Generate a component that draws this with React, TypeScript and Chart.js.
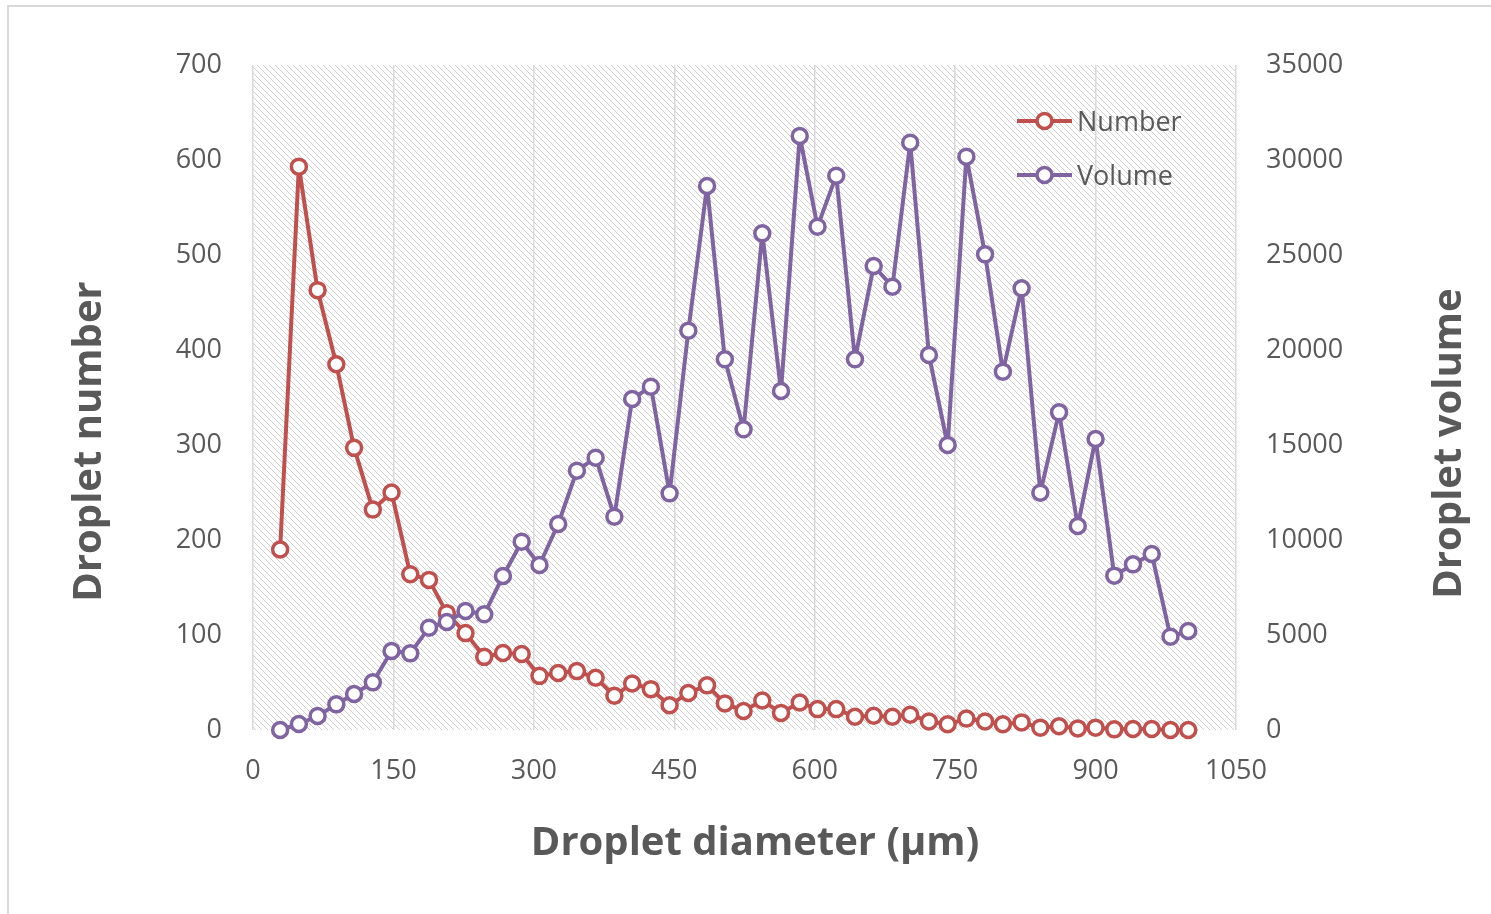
import React, { useEffect, useRef } from "react";
import { Chart, registerables } from "chart.js";

Chart.register(...registerables);

// ---- data ----
const diameters = [29, 49, 69, 89, 108, 128, 148, 168, 188, 207, 227, 247, 267, 287, 306, 326, 346, 366, 386, 405, 425, 445, 465, 485, 504, 524, 544, 564, 584, 603, 623, 643, 663, 683, 702, 722, 742, 762, 782, 801, 821, 841, 861, 881, 900, 920, 940, 960, 980, 999];
const dropletNumber = [190, 593, 463, 385, 297, 232, 250, 164, 158, 123, 102, 77, 81, 80, 57, 60, 62, 55, 36, 49, 43, 26, 39, 47, 28, 20, 31, 18, 29, 22, 22, 14, 15, 14, 16, 9, 6, 12, 9, 6, 8, 2.5, 4, 1.7, 2.5, 0.7, 1, 1, 0, 0];
const dropletVolume = [0, 316, 737, 1350, 1895, 2508, 4158, 4035, 5386, 5684, 6263, 6088, 8105, 9912, 8684, 10842, 13649, 14333, 11228, 17421, 18070, 12456, 21018, 28632, 19509, 15825, 26140, 17842, 31263, 26491, 29175, 19509, 24421, 23333, 30912, 19737, 15000, 30175, 25035, 18860, 23246, 12491, 16719, 10737, 15316, 8123, 8719, 9263, 4912, 5210];
const seriesLabels = ["Number", "Volume"];
const xTitle = "Droplet diameter (µm)";
const yLeftTitle = "Droplet number";
const yRightTitle = "Droplet volume";
const xRange = [0, 1050];
const xStep = 150;
const yLeftRange = [0, 700];
const yLeftStep = 100;
const yRightRange = [0, 35000];
const yRightStep = 5000;

// ---- styles ----
const W = 1491;
const H = 914;
const FONT = '"Open Sans", "Noto Sans", sans-serif';
const TEXT = "#595959";
const RED = "#C0504D";
const PURPLE = "#8064A2";
const GRID = "#d9d9d9";

const plain = (v: any) => String(v);

function makeHatch(ctx: CanvasRenderingContext2D) {
  const c = document.createElement("canvas");
  c.width = 6;
  c.height = 6;
  const g = c.getContext("2d")!;
  g.strokeStyle = "#cfcfcf";
  g.lineWidth = 1;
  g.beginPath();
  g.moveTo(-1, -1);
  g.lineTo(7, 7);
  g.moveTo(-1, 5);
  g.lineTo(1, 7);
  g.moveTo(5, -1);
  g.lineTo(7, 1);
  g.stroke();
  return ctx.createPattern(c, "repeat");
}

const hatchPlugin = {
  id: "hatchBg",
  beforeDraw(chart: any) {
    const { ctx, chartArea } = chart;
    const p = makeHatch(ctx);
    if (!p) return;
    ctx.save();
    ctx.fillStyle = p;
    ctx.fillRect(chartArea.left, chartArea.top, chartArea.right - chartArea.left, chartArea.bottom - chartArea.top);
    ctx.restore();
  },
};

const decorPlugin = {
  id: "decor",
  afterDraw(chart: any) {
    const { ctx, chartArea } = chart;
    ctx.save();
    // legend
    ctx.font = `27px ${FONT}`;
    ctx.textAlign = "left";
    ctx.textBaseline = "middle";
    chart.data.datasets.forEach((ds: any, i: number) => {
      const y = chartArea.top + 56 + i * 54;
      const x1 = chartArea.right - 219;
      const x2 = chartArea.right - 164;
      ctx.strokeStyle = ds.borderColor;
      ctx.lineWidth = 4;
      ctx.beginPath();
      ctx.moveTo(x1, y);
      ctx.lineTo(x2, y);
      ctx.stroke();
      ctx.beginPath();
      ctx.arc((x1 + x2) / 2, y, 7.5, 0, Math.PI * 2);
      ctx.fillStyle = "#ffffff";
      ctx.fill();
      ctx.lineWidth = 3.5;
      ctx.stroke();
      ctx.fillStyle = TEXT;
      ctx.fillText(ds.label, x2 + 5, y + 2);
    });
    // titles
    ctx.fillStyle = TEXT;
    ctx.font = `bold 40px ${FONT}`;
    ctx.textAlign = "center";
    ctx.textBaseline = "alphabetic";
    ctx.fillText(xTitle, 755, 855);
    ctx.save();
    ctx.translate(101, 441.5);
    ctx.rotate(-Math.PI / 2);
    ctx.fillText(yLeftTitle, 0, 0);
    ctx.restore();
    ctx.save();
    ctx.translate(1461, 443.5);
    ctx.rotate(-Math.PI / 2);
    ctx.fillText(yRightTitle, 0, 0);
    ctx.restore();
    ctx.restore();
  },
};

export default function App() {
  const ref = useRef<HTMLCanvasElement | null>(null);

  useEffect(() => {
    if (!ref.current) return;
    const tickFont = { family: FONT, size: 27 };
    const chart = new Chart(ref.current, {
      type: "line",
      data: {
        datasets: [
          {
            label: seriesLabels[0],
            data: diameters.map((x, i) => ({ x, y: dropletNumber[i] })),
            yAxisID: "y",
            borderColor: RED,
            backgroundColor: "#ffffff",
            pointBackgroundColor: "#ffffff",
            pointBorderColor: RED,
            borderWidth: 4,
            borderJoinStyle: "round",
            borderCapStyle: "round",
            pointRadius: 7.5,
            pointBorderWidth: 3.5,
            tension: 0,
            clip: false,
            order: 1,
          },
          {
            label: seriesLabels[1],
            data: diameters.map((x, i) => ({ x, y: dropletVolume[i] })),
            yAxisID: "y2",
            borderColor: PURPLE,
            backgroundColor: "#ffffff",
            pointBackgroundColor: "#ffffff",
            pointBorderColor: PURPLE,
            borderWidth: 4,
            borderJoinStyle: "round",
            borderCapStyle: "round",
            pointRadius: 7.5,
            pointBorderWidth: 3.5,
            tension: 0,
            clip: false,
            order: 0,
          },
        ],
      },
      options: {
        responsive: false,
        animation: false,
        events: [],
        layout: { padding: { top: 65, left: 0, right: 0, bottom: 0 } },
        plugins: {
          legend: { display: false },
          tooltip: { enabled: false },
        },
        scales: {
          x: {
            type: "linear",
            min: xRange[0],
            max: xRange[1],
            ticks: { stepSize: xStep, font: tickFont, color: TEXT, padding: 25, maxRotation: 0, callback: plain },
            grid: { color: GRID, lineWidth: 1.5, drawTicks: false },
            border: { display: false },
            afterFit: (s: any) => {
              s.height = 184;
            },
          },
          y: {
            type: "linear",
            position: "left",
            min: yLeftRange[0],
            max: yLeftRange[1],
            ticks: { stepSize: yLeftStep, font: tickFont, color: TEXT, padding: 31, callback: plain },
            grid: { display: false, drawTicks: false },
            border: { display: false },
            afterFit: (s: any) => {
              s.width = 253;
            },
          },
          y2: {
            type: "linear",
            position: "right",
            min: yRightRange[0],
            max: yRightRange[1],
            ticks: { stepSize: yRightStep, font: tickFont, color: TEXT, padding: 30, callback: plain },
            grid: { display: false, drawTicks: false },
            border: { display: false },
            afterFit: (s: any) => {
              s.width = 255;
            },
          },
        },
      },
      plugins: [hatchPlugin, decorPlugin],
    } as any);
    return () => chart.destroy();
  }, []);

  return (
    <div style={{ position: "absolute", left: 0, top: 0, width: W, height: H, background: "#ffffff", overflow: "hidden" }}>
      <div
        style={{
          position: "absolute",
          left: 7,
          top: 5,
          width: W,
          height: H,
          borderLeft: "2px solid #d9d9d9",
          borderTop: "2px solid #d9d9d9",
        }}
      />
      <canvas ref={ref} width={W} height={H} style={{ position: "absolute", left: 0, top: 0, width: W, height: H }} />
    </div>
  );
}
